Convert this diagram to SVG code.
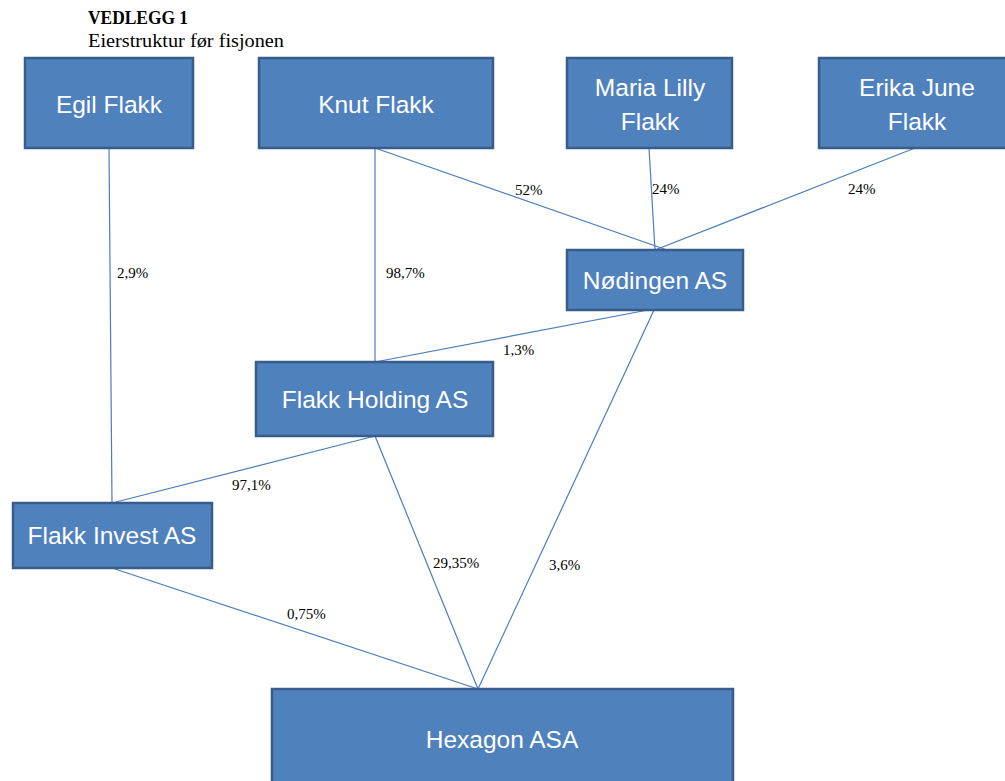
<svg xmlns="http://www.w3.org/2000/svg" width="1005" height="781" viewBox="0 0 1005 781">
<style>
.box{fill:#4F81BD;stroke:#385D8A;stroke-width:2.5}
.bt{fill:#fff;font-family:"Liberation Sans",Arial,sans-serif;font-size:24.5px;text-anchor:middle}
.ln{stroke:#4A7EBB;stroke-width:1.2;fill:none}
.lb{fill:#000;font-family:"Liberation Serif","Times New Roman",serif;font-size:15px}
.tt{fill:#000;font-family:"Liberation Serif","Times New Roman",serif;font-size:18px}
</style>
<rect width="1005" height="781" fill="#fff"/>
<text class="tt" x="88" y="24" font-weight="bold" font-size="17" textLength="100" lengthAdjust="spacingAndGlyphs">VEDLEGG 1</text>
<text class="tt" x="88" y="47" textLength="196" lengthAdjust="spacingAndGlyphs">Eierstruktur før fisjonen</text>
<g id="connectors">
<line class="ln" x1="109" y1="148" x2="112" y2="503"/>
<line class="ln" x1="375" y1="148" x2="375" y2="362"/>
<line class="ln" x1="375" y1="148" x2="667" y2="250"/>
<line class="ln" x1="649" y1="148" x2="655" y2="250"/>
<line class="ln" x1="915" y1="148" x2="655" y2="250"/>
<line class="ln" x1="648" y1="310" x2="375" y2="362"/>
<line class="ln" x1="654" y1="310" x2="478" y2="689"/>
<line class="ln" x1="375" y1="436" x2="112" y2="503"/>
<line class="ln" x1="375" y1="436" x2="478" y2="689"/>
<line class="ln" x1="112" y1="568" x2="478" y2="689"/>
<text class="lb" x="515" y="195">52%</text>
<text class="lb" x="652" y="194">24%</text>
<text class="lb" x="848" y="194">24%</text>
<text class="lb" x="117" y="278">2,9%</text>
<text class="lb" x="386" y="278">98,7%</text>
<text class="lb" x="503" y="355">1,3%</text>
<text class="lb" x="232" y="490">97,1%</text>
<text class="lb" x="433" y="568">29,35%</text>
<text class="lb" x="549" y="570">3,6%</text>
<text class="lb" x="287" y="619">0,75%</text>
</g>
<g id="egil"><rect class="box" x="25" y="58" width="168" height="90"/><text class="bt" x="109" y="113">Egil Flakk</text></g>
<g id="knut"><rect class="box" x="259" y="58" width="234" height="90"/><text class="bt" x="376" y="113">Knut Flakk</text></g>
<g id="maria"><rect class="box" x="567" y="58" width="165" height="90"/><text class="bt" x="650" y="96">Maria Lilly</text><text class="bt" x="650" y="130">Flakk</text></g>
<g id="erika"><rect class="box" x="819" y="58" width="195" height="90"/><text class="bt" x="917" y="96">Erika June</text><text class="bt" x="917" y="130">Flakk</text></g>
<g id="nodingen"><rect class="box" x="567" y="250" width="176" height="60"/><text class="bt" x="655" y="289">Nødingen AS</text></g>
<g id="holding"><rect class="box" x="256" y="362" width="237" height="74"/><text class="bt" x="375" y="408">Flakk Holding AS</text></g>
<g id="invest"><rect class="box" x="13" y="503" width="199" height="65"/><text class="bt" x="112" y="544">Flakk Invest AS</text></g>
<g id="hexagon"><rect class="box" x="272" y="689" width="461" height="110"/><text class="bt" x="502" y="748">Hexagon ASA</text></g>
</svg>
